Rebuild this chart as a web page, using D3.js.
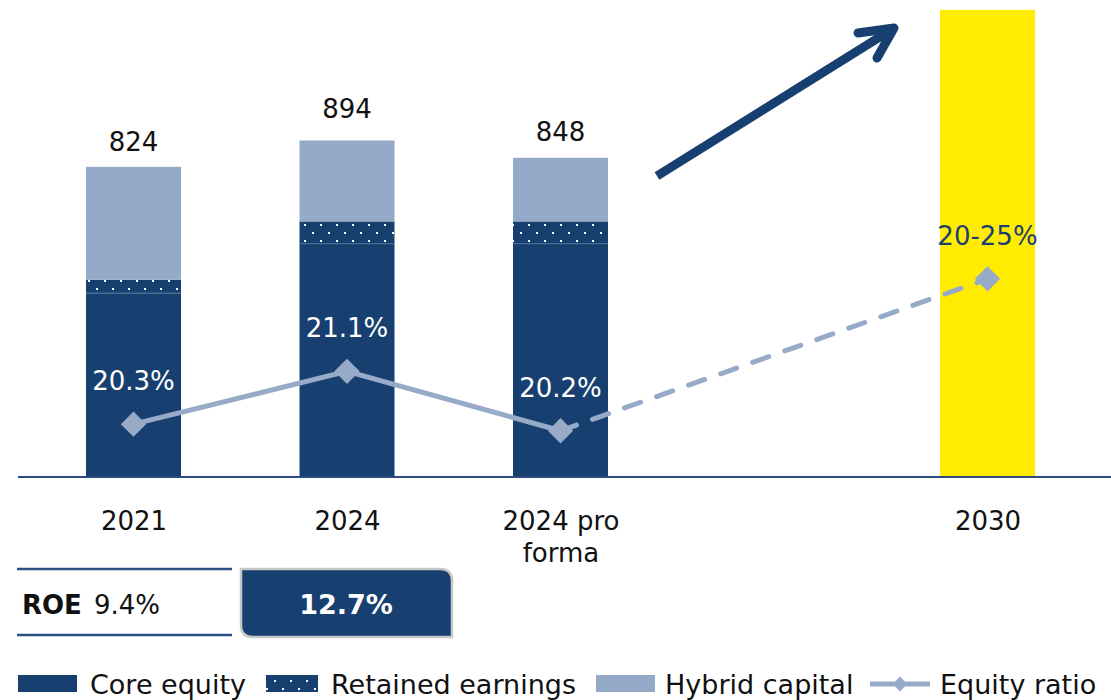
<!DOCTYPE html>
<html><head><meta charset="utf-8">
<script src="https://cdn.jsdelivr.net/npm/d3@7"></script>
<style>
body{margin:0;background:#fff;}
svg{display:block;font-family:"DejaVu Sans",sans-serif;}
</style></head>
<body><svg id="c" width="1111" height="700"></svg>
<script>
// ---- data ----
const categories = ["2021", "2024", "2024 pro forma", "", "2030"];
const coreEquity = [489, 621, 621, null, null];
const retainedEarnings = [35, 58, 58, null, null];
const hybridCapital = [300, 215, 169, null, null];
const totals = [824, 894, 848, null, null];
const target2030 = [null, null, null, null, 1241];
const equityRatio = [20.3, 21.1, 20.2, null, 22.5];
const equityRatioLabels = ["20.3%", "21.1%", "20.2%", "", "20-25%"];
const roeLabels = ["9.4%", "12.7%"];
const legendItems = ["Core equity", "Retained earnings", "Hybrid capital", "Equity ratio"];

const C_CORE = "#173f6f", C_HYB = "#95aac8", C_YEL = "#ffec00", C_LINE = "#97abc9";

const svg = d3.select("#c");
const defs = svg.append("defs");
const pat = defs.append("pattern").attr("id","dots").attr("patternUnits","userSpaceOnUse")
  .attr("width",16).attr("height",16);
pat.append("rect").attr("width",16).attr("height",16).attr("fill",C_CORE);
pat.append("rect").attr("x",0).attr("y",0).attr("width",2).attr("height",2).attr("fill","#fff");
pat.append("rect").attr("x",8).attr("y",8).attr("width",2).attr("height",2).attr("fill","#fff");

const x = d3.scalePoint().domain(categories.map((d,i)=>i)).range([133.5, 987.5]);
const y = d3.scaleLinear().domain([0, 1246]).range([477, 8]);
const yr = d3.scaleLinear().domain([19.5, 26.6]).range([477, 8]);
const bw = 95;

// 2030 target bar
svg.append("g").selectAll("rect").data(target2030.map((v,i)=>({v,i})).filter(d=>d.v!=null))
  .join("rect").attr("x",d=>x(d.i)-bw/2).attr("y",d=>y(d.v)).attr("width",bw)
  .attr("height",d=>y(0)-y(d.v)).attr("fill",C_YEL);

// stacked bars
const rows = categories.map((c,i)=>({i, core:coreEquity[i], ret:retainedEarnings[i], hyb:hybridCapital[i]})).filter(d=>d.core!=null);
const stack = d3.stack().keys(["core","ret","hyb"])(rows);
const fills = {core:C_CORE, ret:"url(#dots)", hyb:C_HYB};
svg.append("g").selectAll("g").data(stack).join("g").attr("fill",s=>fills[s.key])
  .selectAll("rect").data(s=>s).join("rect")
  .attr("x",d=>x(d.data.i)-bw/2).attr("y",d=>y(d[1])).attr("width",bw)
  .attr("height",d=>y(d[0])-y(d[1]));
// thin separator between core and retained
svg.append("g").selectAll("line").data(rows).join("line")
  .attr("x1",d=>x(d.i)-bw/2).attr("x2",d=>x(d.i)+bw/2)
  .attr("y1",d=>y(d.core)+0.5).attr("y2",d=>y(d.core)+0.5)
  .attr("stroke","#4d6e99").attr("stroke-width",1.2);

// total labels
const lblOff = [16, 22, 17];
svg.append("g").selectAll("text").data(totals.map((v,i)=>({v,i})).filter(d=>d.v!=null))
  .join("text").attr("x",d=>x(d.i)).attr("y",d=>y(d.v)-lblOff[d.i]).attr("text-anchor","middle")
  .attr("font-size",26).attr("fill","#111").text(d=>d.v);

// axis line
svg.append("line").attr("x1",18).attr("x2",1111).attr("y1",y(0)).attr("y2",y(0))
  .attr("stroke","#2b4c7e").attr("stroke-width",2);

// x axis labels
const ax = svg.append("g").attr("transform",`translate(0,${y(0)})`)
  .call(d3.axisBottom(x).tickSize(0).tickPadding(0).tickFormat(i=>categories[i]));
ax.select(".domain").remove();
ax.selectAll("text").attr("font-size",26).attr("fill","#111").attr("font-family","DejaVu Sans, sans-serif")
  .attr("dy",null).attr("y",0)
  .each(function(i){
    const t=d3.select(this); const s=categories[i];
    t.text(null);
    const lines = s==="2024 pro forma" ? ["2024 pro","forma"] : [s];
    lines.forEach((l,k)=>t.append("tspan").attr("x",0).attr("y",53+k*32).text(l));
  });

// growth arrow (decorative)
svg.append("line").attr("x1",657).attr("y1",176).attr("x2",891).attr("y2",30)
  .attr("stroke",C_CORE).attr("stroke-width",9);
svg.append("polyline").attr("points","858,33 894,28 877,58").attr("fill","none")
  .attr("stroke",C_CORE).attr("stroke-width",9).attr("stroke-linecap","round").attr("stroke-linejoin","round");

// equity ratio line
const pts = equityRatio.map((v,i)=>({v,i})).filter(d=>d.v!=null);
const line = d3.line().x(d=>x(d.i)).y(d=>yr(d.v));
svg.append("path").attr("d",line(pts.slice(0,3))).attr("fill","none")
  .attr("stroke",C_LINE).attr("stroke-width",5);
svg.append("path").attr("d",line(pts.slice(2))).attr("fill","none")
  .attr("stroke",C_LINE).attr("stroke-width",5).attr("stroke-linecap","round").attr("stroke-dasharray","17,17");
const diamond = d3.symbol().type(d3.symbolSquare).size(320);
svg.append("g").selectAll("path").data(pts).join("path")
  .attr("d",diamond()).attr("fill",C_LINE)
  .attr("transform",d=>`translate(${x(d.i)},${yr(d.v)}) rotate(45)`);
svg.append("g").selectAll("text").data(pts).join("text")
  .attr("x",d=>x(d.i)).attr("y",d=>yr(d.v)-34).attr("text-anchor","middle")
  .attr("font-size",26).attr("fill",d=>d.i===4?"#1b3f70":"#fff")
  .text(d=>equityRatioLabels[d.i]);

// ROE box
const roe = svg.append("g");
roe.append("line").attr("x1",17).attr("x2",232).attr("y1",569).attr("y2",569).attr("stroke","#2d5082").attr("stroke-width",2.5);
roe.append("line").attr("x1",17).attr("x2",232).attr("y1",635).attr("y2",635).attr("stroke","#2d5082").attr("stroke-width",2.5);
roe.append("text").attr("x",22).attr("y",614).attr("font-size",26).attr("fill","#111")
  .call(t=>{t.append("tspan").attr("font-weight","bold").text("ROE");
            t.append("tspan").attr("dx",12).text(roeLabels[0]);});
roe.append("path").attr("d","M241,569 L440,569 Q452,569 452,581 L452,637 L253,637 Q241,637 241,625 Z")
  .attr("fill",C_CORE).attr("stroke","#c8c8c8").attr("stroke-width",2.5);
roe.append("text").attr("x",346).attr("y",614).attr("text-anchor","middle").attr("font-size",27)
  .attr("font-weight","bold").attr("fill","#fff").text(roeLabels[1]);

// legend
const lg = svg.append("g");
const lx = [18, 266, 596, 870];
legendItems.forEach((name,k)=>{
  const g = lg.append("g").attr("transform",`translate(${lx[k]},0)`);
  if(k<3){
    g.append("rect").attr("x",0).attr("y",675).attr("width",k===1?52:59).attr("height",17)
      .attr("fill",k===0?C_CORE:k===1?"url(#dots)":C_HYB);
  } else {
    g.append("line").attr("x1",0).attr("x2",60).attr("y1",684).attr("y2",684).attr("stroke",C_LINE).attr("stroke-width",5);
    g.append("path").attr("d",d3.symbol().type(d3.symbolSquare).size(110)()).attr("fill",C_LINE)
      .attr("transform","translate(30,684) rotate(45)");
  }
  const tx = k===0?72:k===1?65:k===2?69:70;
  g.append("text").attr("x",tx).attr("y",694).attr("font-size",27).attr("fill","#111").text(name);
});
</script></body></html>
